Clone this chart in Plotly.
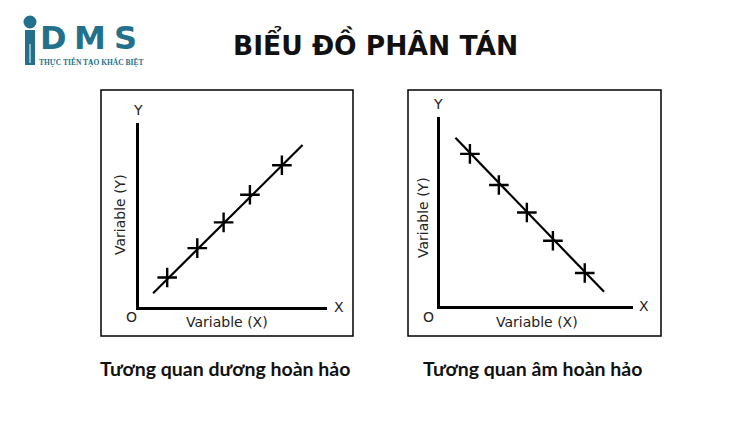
import plotly.graph_objects as go

# ---- data ----
pos_x = [1.5, 3.1, 4.5, 5.9, 7.6]
pos_y = [1.6, 3.2, 4.6, 6.1, 7.7]
pos_line_x = [0.75, 8.7]
pos_line_y = [0.75, 8.8]

neg_x = [1.55, 3.05, 4.5, 5.85, 7.5]
neg_y = [8.05, 6.4, 4.95, 3.45, 1.75]
neg_line_x = [0.8, 8.5]
neg_line_y = [8.9, 0.75]

title_text = "BIỂU ĐỒ PHÂN TÁN"
captions = ["Tương quan dương hoàn hảo", "Tương quan âm hoàn hảo"]
x_label = "Variable (X)"
y_label = "Variable (Y)"

W, H = 750, 421
def px(x):
    return x / W
def py(y):
    return 1 - y / H

fig = go.Figure()

marker_style = dict(symbol="cross-thin-open", size=14, color="black",
                    line=dict(color="black", width=2.4))

# left panel
fig.add_trace(go.Scatter(x=pos_line_x, y=pos_line_y, mode="lines",
                         line=dict(color="black", width=2.2),
                         xaxis="x", yaxis="y", hoverinfo="skip"))
fig.add_trace(go.Scatter(x=pos_x, y=pos_y, mode="markers",
                         marker=marker_style, xaxis="x", yaxis="y"))
# right panel
fig.add_trace(go.Scatter(x=neg_line_x, y=neg_line_y, mode="lines",
                         line=dict(color="black", width=2.2),
                         xaxis="x2", yaxis="y2", hoverinfo="skip"))
fig.add_trace(go.Scatter(x=neg_x, y=neg_y, mode="markers",
                         marker=marker_style, xaxis="x2", yaxis="y2"))

ax_common = dict(range=[0, 10], showgrid=False, zeroline=False,
                 showticklabels=False, ticks="", showline=True,
                 linecolor="black", linewidth=2.5, fixedrange=True)

fig.update_layout(
    width=W, height=H,
    margin=dict(l=0, r=0, t=0, b=0),
    paper_bgcolor="white", plot_bgcolor="rgba(0,0,0,0)",
    showlegend=False,
    xaxis=dict(domain=[px(139), px(327)], anchor="y", **ax_common),
    yaxis=dict(domain=[py(307), py(123)], anchor="x", **ax_common),
    xaxis2=dict(domain=[px(440), px(633)], anchor="y2", **ax_common),
    yaxis2=dict(domain=[py(306), py(117)], anchor="x2", **ax_common),
)

shapes = []
# panel frames
for (x0, y0, x1, y1) in [(101, 90, 353, 336), (408, 90, 661, 336)]:
    shapes.append(dict(type="rect", xref="paper", yref="paper",
                       x0=px(x0), x1=px(x1), y0=py(y1), y1=py(y0),
                       line=dict(color="black", width=1.5)))
# logo: person-like "i"
teal = "#22708b"
shapes.append(dict(type="circle", xref="paper", yref="paper",
                   x0=px(23.5), x1=px(36.5), y0=py(28.5), y1=py(15.5),
                   fillcolor=teal, line=dict(width=0)))
shapes.append(dict(type="rect", xref="paper", yref="paper",
                   x0=px(25), x1=px(35), y0=py(65), y1=py(30),
                   fillcolor=teal, line=dict(width=0)))
shapes.append(dict(type="line", xref="paper", yref="paper",
                   x0=px(30), x1=px(30), y0=py(63), y1=py(44),
                   line=dict(color="white", width=1)))
fig.update_layout(shapes=shapes)

ann = []
def add_text(x, y, text, size, color="#222", family="DejaVu Sans", angle=0,
             xanchor="center"):
    ann.append(dict(x=px(x), y=py(y), xref="paper", yref="paper", text=text,
                    showarrow=False, xanchor=xanchor, yanchor="middle",
                    textangle=angle,
                    font=dict(size=size, color=color, family=family)))

# title
add_text(375, 43, "<b>" + title_text + "</b>", 26.5, color="#111",
         family="DejaVu Sans")
# logo text
for letter, cx in zip(["D", "M", "S"], [54, 90, 125]):
    add_text(cx, 38, "<b>" + letter + "</b>", 32, color=teal,
             family="DejaVu Sans")
add_text(37, 62, "<b>THỰC TIỄN TẠO KHÁC BIỆT</b>", 7.5, color=teal,
         family="Liberation Sans Narrow", xanchor="left")

# left panel texts
add_text(138, 110, "Y", 14)
add_text(339, 307, "X", 14)
add_text(131, 317, "O", 14)
add_text(227, 322, x_label, 14)
add_text(120, 215, y_label, 14, angle=-90)
# right panel texts
add_text(438, 104, "Y", 14)
add_text(644, 306, "X", 14)
add_text(429, 317, "O", 14)
add_text(537, 322, x_label, 14)
add_text(423, 217, y_label, 14, angle=-90)

# captions
add_text(225, 368, "<b>" + captions[0] + "</b>", 19.5, color="#111", family="Lato")
add_text(532, 368, "<b>" + captions[1] + "</b>", 19.5, color="#111", family="Lato")

fig.update_layout(annotations=ann)
fig.write_html("out.html", config={"displayModeBar": False},
               post_script="document.body.style.margin='0';"
                           "document.body.style.overflow='hidden';")
